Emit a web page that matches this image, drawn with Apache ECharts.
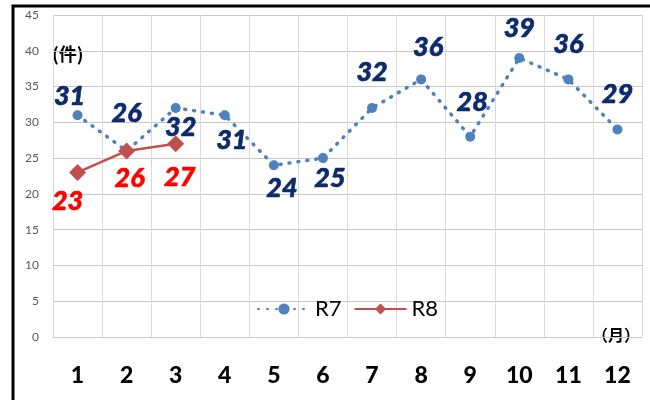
<!DOCTYPE html>
<html>
<head>
<meta charset="utf-8">
<script src="https://cdn.jsdelivr.net/npm/echarts@6/dist/echarts.min.js"></script>
<style>
  html, body { margin: 0; padding: 0; background: #fff; }
  #chart { width: 650px; height: 400px; }
</style>
</head>
<body>
<div id="chart"></div>
<script>
const months = ['1', '2', '3', '4', '5', '6', '7', '8', '9', '10', '11', '12']
const r7 = [31, 26, 32, 31, 24, 25, 32, 36, 28, 39, 36, 29]
const r8 = [23, 26, 27]

// label placement per point (top / bottom, distance, x offset)
const r7Pos = [
  ['top', 0, -8], ['top', 19, 0], ['bottom', 1, 5], ['bottom', 7, 7],
  ['bottom', 5, 8], ['bottom', 2, 7], ['top', 17, 0], ['top', 14, 7],
  ['top', 16, 2], ['top', 11, 0], ['top', 17, 0], ['top', 17, 0]
]
const r8Pos = [['bottom', 7, -10], ['bottom', 5, 3], ['bottom', 11, 4]]

const labelFont = {
  fontFamily: 'Lato',
  fontWeight: 900,
  fontStyle: 'italic',
  fontSize: 27
}

function withLabels(values, pos, color) {
  return values.map((v, i) => ({
    value: v,
    label: {
      show: true,
      position: pos[i][0],
      distance: pos[i][1],
      offset: [pos[i][2], 0],
      color: color,
      textBorderColor: color,
      textBorderWidth: 0.6,
      ...labelFont
    }
  }))
}

const chart = echarts.init(document.getElementById('chart'))
chart.setOption({
  animation: false,
  grid: { left: 53, right: 8, top: 15, bottom: 63 },
  legend: {
    left: 252,
    top: 293,
    itemWidth: 52,
    itemHeight: 14,
    itemGap: 12,
    textStyle: { fontFamily: 'Lato', fontSize: 22, color: '#000' },
    data: ['R7', 'R8']
  },
  xAxis: {
    type: 'category',
    data: months,
    axisLine: { show: false },
    axisTick: { show: false },
    splitLine: { show: true, interval: 0, lineStyle: { color: '#d9d9d9', width: 1 } },
    axisLabel: {
      margin: 27,
      color: '#000',
      fontFamily: 'Lato',
      fontWeight: 900,
      fontSize: 23
    }
  },
  yAxis: {
    type: 'value',
    min: 0,
    max: 45,
    interval: 5,
    axisLine: { show: false },
    axisTick: { show: false },
    splitLine: { lineStyle: { color: '#c8c8c8', width: 1 } },
    axisLabel: { margin: 14, color: '#595959', fontFamily: 'Lato', fontSize: 12 }
  },
  series: [
    {
      name: 'R7',
      type: 'line',
      data: withLabels(r7, r7Pos, '#0d2a6b'),
      symbol: 'circle',
      symbolSize: 10,
      itemStyle: { color: '#4f81bd' },
      lineStyle: { color: '#4f81bd', width: 3.5, type: [1, 8], cap: 'round' }
    },
    {
      name: 'R8',
      type: 'line',
      data: withLabels(r8, r8Pos, '#ff0000'),
      symbol: 'diamond',
      symbolSize: 17,
      itemStyle: { color: '#c0504d' },
      lineStyle: { color: '#c0504d', width: 2.5 }
    }
  ],
  graphic: [
    {
      type: 'rect',
      shape: { x: 13, y: 6, width: 700, height: 450 },
      style: { fill: 'none', stroke: '#000', lineWidth: 3 },
      silent: true
    },
    {
      type: 'text',
      left: 52,
      top: 45,
      style: {
        text: '(件)',
        fontFamily: 'Noto Sans CJK JP',
        fontWeight: 'bold',
        fontSize: 18,
        fill: '#000'
      }
    },
    {
      type: 'text',
      left: 592,
      top: 327,
      style: {
        text: '（月）',
        fontFamily: 'Noto Sans CJK JP',
        fontWeight: 'bold',
        fontSize: 16,
        fill: '#000'
      }
    }
  ]
})
</script>
</body>
</html>
